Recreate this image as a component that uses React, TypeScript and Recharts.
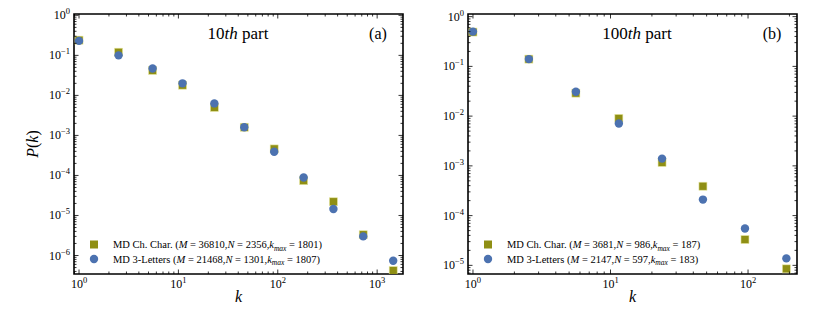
import { ScatterChart, Scatter, XAxis, YAxis, ReferenceArea, Customized } from 'recharts'

// binned degree k and P(k) values
const LEFT_K = [1, 2.5, 5.5, 11, 23, 46, 92, 182, 363, 724, 1450]
const LEFT_CHAR = [0.24, 0.12, 0.042, 0.018, 0.005, 0.0016, 0.00046, 7.4e-5, 2.2e-5, 3.3e-6, 4.2e-7]
const LEFT_LETTERS = [0.23, 0.1, 0.047, 0.02, 0.0063, 0.0016, 0.00039, 8.9e-5, 1.45e-5, 3.0e-6, 7.4e-7]

const RIGHT_K = [1, 2.55, 5.6, 11.5, 23.7, 47, 95, 190]
const RIGHT_CHAR = [0.49, 0.14, 0.029, 0.009, 0.00117, 0.00039, 3.3e-5, 8.5e-6]
const RIGHT_LETTERS = [0.5, 0.14, 0.031, 0.0071, 0.0014, 0.00021, 5.5e-5, 1.38e-5]

const LEFT_LEGEND = [
  { name: 'MD Ch. Char.', M: '36810', N: '2356', kmax: '1801' },
  { name: 'MD 3-Letters', M: '21468', N: '1301', kmax: '1807' },
]
const RIGHT_LEGEND = [
  { name: 'MD Ch. Char.', M: '3681', N: '986', kmax: '187' },
  { name: 'MD 3-Letters', M: '2147', N: '597', kmax: '183' },
]

const OLIVE = '#8f8f14'
const BLUE = '#4c72b0'
const SERIF = '"Liberation Serif", "DejaVu Serif", serif'
const PLOT_W = 329
const PLOT_H = 260

function logTicks(lo: number, hi: number) {
  const out: number[] = []
  for (let e = Math.floor(Math.log10(lo)); e <= Math.ceil(Math.log10(hi)); e++) {
    for (let m = 1; m < 10; m++) {
      const v = m * Math.pow(10, e)
      if (v >= lo && v <= hi) out.push(v)
    }
  }
  return out
}

const isMajor = (v: number) => {
  const l = Math.log10(v)
  return Math.abs(l - Math.round(l)) < 1e-9
}

function expLabel(v: number) {
  const e = Math.round(Math.log10(v))
  return e < 0 ? '\u2212' + Math.abs(e) : String(e)
}

function XTick(props: any) {
  const { x, y, payload } = props
  const v = payload.value
  const major = isMajor(v)
  const len = major ? 4.5 : 2.5
  const top = y - PLOT_H
  return (
    <g>
      <line x1={x} x2={x} y1={y} y2={y - len} stroke="#000" strokeWidth={0.8} />
      <line x1={x} x2={x} y1={top} y2={top + len} stroke="#000" strokeWidth={0.8} />
      {major && (
        <text x={x} y={y + 14} textAnchor="middle" style={{ fontFamily: SERIF, fontSize: 12 }} fill="#000">
          <tspan>10</tspan>
          <tspan dy={-5} style={{ fontSize: 8.5 }}>{expLabel(v)}</tspan>
        </text>
      )}
    </g>
  )
}

function YTick(props: any) {
  const { x, y, payload } = props
  const v = payload.value
  const major = isMajor(v)
  const len = major ? 4.5 : 2.5
  const right = x + PLOT_W
  return (
    <g>
      <line x1={x} x2={x + len} y1={y} y2={y} stroke="#000" strokeWidth={0.8} />
      <line x1={right} x2={right - len} y1={y} y2={y} stroke="#000" strokeWidth={0.8} />
      {major && (
        <text x={x - 4} y={y + 4} textAnchor="end" style={{ fontFamily: SERIF, fontSize: 12 }} fill="#000">
          <tspan>10</tspan>
          <tspan dy={-5} style={{ fontSize: 8.5 }}>{expLabel(v)}</tspan>
        </text>
      )}
    </g>
  )
}

const square = (p: any) => (
  <rect x={p.cx - 4} y={p.cy - 4} width={8} height={8} fill={OLIVE} stroke="#e6e6a0" strokeWidth={0.6} />
)
const dot = (p: any) => <circle cx={p.cx} cy={p.cy} r={4.2} fill={BLUE} />

type Entry = { name: string; M: string; N: string; kmax: string }

const it = { fontStyle: 'italic' as const }

function Annotations({ px, title, tag, tagX, titleX, legend, ylabel }: {
  px: number; title: string; tag: string; tagX: number; titleX: number; legend: Entry[]; ylabel: boolean
}) {
  return (
    <g style={{ fontFamily: SERIF }} fill="#000">
      <text x={titleX} y={39} textAnchor="middle" style={{ fontFamily: SERIF, fontSize: 17 }}>
        <tspan>{title}</tspan>
        <tspan style={it}>th</tspan>
        <tspan> part</tspan>
      </text>
      <text x={tagX} y={39} textAnchor="middle" style={{ fontFamily: SERIF, fontSize: 16 }}>{tag}</text>
      {legend.map((e, i) => {
        const cy = 244.5 + i * 14.5
        return (
          <g key={e.name}>
            {i === 0
              ? <rect x={px + 20 - 4} y={cy - 4} width={8} height={8} fill={OLIVE} />
              : <circle cx={px + 20} cy={cy} r={4.2} fill={BLUE} />}
            <text x={px + 39} y={cy + 3.5} style={{ fontFamily: SERIF, fontSize: 10.5 }}>
              <tspan>{e.name} (</tspan>
              <tspan style={it}>M</tspan>
              <tspan> = {e.M},</tspan>
              <tspan style={it}>N</tspan>
              <tspan> = {e.N},</tspan>
              <tspan style={it}>k</tspan>
              <tspan style={{ fontStyle: 'italic', fontSize: 7.5 }} dy={2.5}>max</tspan>
              <tspan dy={-2.5}> = {e.kmax})</tspan>
            </text>
          </g>
        )
      })}
      <text x={px + PLOT_W / 2} y={302} textAnchor="middle" style={{ fontFamily: SERIF, fontSize: 16, fontStyle: 'italic' }}>k</text>
      {ylabel && (
        <text x={38} y={144} textAnchor="middle" style={{ fontFamily: SERIF, fontSize: 16 }} transform="rotate(-90 38 144)">
          <tspan style={it}>P</tspan>
          <tspan>(</tspan>
          <tspan style={it}>k</tspan>
          <tspan>)</tspan>
        </text>
      )}
    </g>
  )
}

function Panel(props: {
  ks: number[]; chars: number[]; letters: number[]; xDom: [number, number]; yDom: [number, number]
  yAxisW: number; right: number; title: string; tag: string; titleX: number; tagX: number
  legend: Entry[]; ylabel: boolean
}) {
  const { ks, chars, letters, xDom, yDom, yAxisW, right } = props
  const charData = ks.map((k, i) => ({ k, p: chars[i] }))
  const letterData = ks.map((k, i) => ({ k, p: letters[i] }))
  return (
    <ScatterChart width={415} height={323} margin={{ top: 14, right, bottom: 0, left: 0 }}>
      <XAxis
        type="number" dataKey="k" scale="log" domain={xDom} allowDataOverflow
        ticks={logTicks(xDom[0], xDom[1])} interval={0} tick={<XTick />}
        tickLine={false} axisLine={false} tickSize={0} tickMargin={0} height={49}
      />
      <YAxis
        type="number" dataKey="p" scale="log" domain={yDom} allowDataOverflow
        ticks={logTicks(yDom[0], yDom[1])} interval={0} tick={<YTick />}
        tickLine={false} axisLine={false} tickSize={0} tickMargin={0} width={yAxisW}
      />
      <ReferenceArea
        x1={xDom[0]} x2={xDom[1]} y1={yDom[0]} y2={yDom[1]}
        fill="none" stroke="#000" strokeWidth={1.6} ifOverflow="visible"
      />
      <Scatter data={charData} shape={square} isAnimationActive={false} />
      <Scatter data={letterData} shape={dot} isAnimationActive={false} />
      <Customized
        component={() => (
          <Annotations
            px={yAxisW} title={props.title} tag={props.tag} titleX={props.titleX}
            tagX={props.tagX} legend={props.legend} ylabel={props.ylabel}
          />
        )}
      />
    </ScatterChart>
  )
}

export default function App() {
  return (
    <div style={{ position: 'absolute', left: 0, top: 0, width: 830, height: 323, background: '#fff' }}>
      <div style={{ position: 'absolute', left: 0, top: 0 }}>
        <Panel
          ks={LEFT_K} chars={LEFT_CHAR} letters={LEFT_LETTERS}
          xDom={[0.89, 1820]} yDom={[3.45e-7, 1.08]} yAxisW={74} right={12}
          title="10" tag="(a)" titleX={238} tagX={378} legend={LEFT_LEGEND} ylabel
        />
      </div>
      <div style={{ position: 'absolute', left: 415, top: 0 }}>
        <Panel
          ks={RIGHT_K} chars={RIGHT_CHAR} letters={RIGHT_LETTERS}
          xDom={[0.92, 227]} yDom={[6.7e-6, 1.13]} yAxisW={53} right={33}
          title="100" tag="(b)" titleX={222} tagX={357} legend={RIGHT_LEGEND} ylabel={false}
        />
      </div>
    </div>
  )
}
